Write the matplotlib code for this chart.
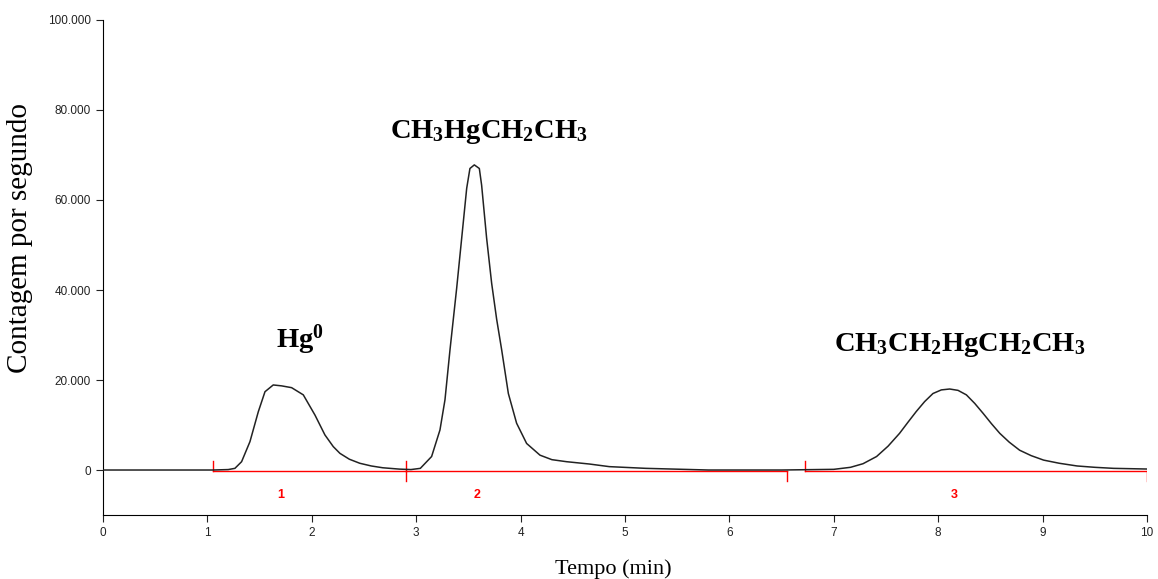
import numpy as np
import matplotlib.pyplot as plt

# Chromatogram trace (time in min, counts per second)
tempo = [0.0, 1.05, 1.20, 1.264, 1.328, 1.408, 1.488, 1.552, 1.631, 1.711, 1.807, 1.919, 2.031, 2.126, 2.206,
         2.27, 2.36, 2.46, 2.57, 2.68, 2.84, 2.95,
         3.04, 3.148, 3.228, 3.276, 3.324, 3.388, 3.436, 3.484, 3.515, 3.557, 3.605, 3.627, 3.675, 3.723,
         3.771, 3.819, 3.883, 3.962, 4.058, 4.186, 4.30, 4.44, 4.66, 4.85, 5.20,
         5.80, 6.50, 7.00, 7.16, 7.28, 7.41, 7.52, 7.63, 7.71, 7.79, 7.87, 7.95, 8.03, 8.11, 8.19, 8.27, 8.35, 8.43,
         8.51, 8.59, 8.68, 8.78, 8.89, 9.01, 9.16, 9.33, 9.50, 9.68, 10.0]
contagem = [0, 0, 100, 370, 1850, 6300, 12950, 17400, 18900, 18700, 18300, 16700, 12200, 7800, 5200,
            3700, 2400, 1500, 900, 500, 200, 100,
            370, 3000, 8900, 15600, 26700, 40400, 51500, 62600, 67000, 67800, 67000, 63300, 51500, 41500,
            33500, 26700, 17000, 10400, 5900, 3300, 2300, 1850, 1330, 750, 370,
            0, 0, 150, 600, 1400, 3000, 5300, 8150, 10600, 13000, 15200, 17000, 17800, 18000, 17700, 16700, 14800, 12600,
            10300, 8150, 6200, 4400, 3200, 2200, 1500, 900, 600, 370, 220]

# Integration segments (start, end) and peak numbers
seg_start = [1.05, 2.90, 6.72]
seg_end = [2.90, 6.55, 10.0]
peak_num = ["1", "2", "3"]
num_x = [1.70, 3.58, 8.15]

# Compound labels
labels = [r"$\mathbf{Hg^0}$", r"$\mathbf{CH_3HgCH_2CH_3}$", r"$\mathbf{CH_3CH_2HgCH_2CH_3}$"]
label_x = [1.89, 3.70, 8.21]
label_y = [28900, 75100, 27800]

plt.rcParams['mathtext.fontset'] = 'custom'
plt.rcParams['mathtext.rm'] = 'Liberation Serif'
plt.rcParams['mathtext.bf'] = 'Liberation Serif:bold'

fig = plt.figure(figsize=(11.58, 5.79), dpi=100)
ax = fig.add_axes([0.0889, 0.1105, 0.9016, 0.855])

ax.plot(tempo, contagem, color="#222222", lw=1.1, zorder=3)

red = "#ff0000"
for s, e in zip(seg_start, seg_end):
    ax.plot([s, e], [-200, -200], color=red, lw=1.0, zorder=2)
    ax.plot([s, s], [-200, 2000], color=red, lw=1.0, zorder=2)
    ax.plot([e, e], [-200, -2400], color=red, lw=1.0, zorder=2)
for x, n in zip(num_x, peak_num):
    ax.text(x, -5500, n, color=red, fontsize=9, fontweight="bold",
            family="Liberation Sans", ha="center", va="center")

for x, y, s in zip(label_x, label_y, labels):
    ax.text(x, y, s, fontsize=20.5, ha="center", va="center", color="black")

ax.set_xlim(0, 10)
ax.set_ylim(-10000, 100000)
ax.set_xticks(range(0, 11))
ax.set_yticks([0, 20000, 40000, 60000, 80000, 100000])
ax.set_yticklabels(["0", "20.000", "40.000", "60.000", "80.000", "100.000"])
for lab in ax.get_xticklabels() + ax.get_yticklabels():
    lab.set_family("Liberation Sans")
    lab.set_fontsize(8.5)
ax.tick_params(direction="out", length=5, width=0.8, colors="#222222")
ax.spines["top"].set_visible(False)
ax.spines["right"].set_visible(False)
ax.set_xlabel("Tempo (min)", family="Liberation Serif", fontsize=16)
ax.set_ylabel("Contagem por segundo", family="Liberation Serif", fontsize=21)
ax.xaxis.set_label_coords(0.489, -0.089)
ax.yaxis.set_label_coords(-0.067, 0.56)

fig.savefig("out.png", dpi=100)
